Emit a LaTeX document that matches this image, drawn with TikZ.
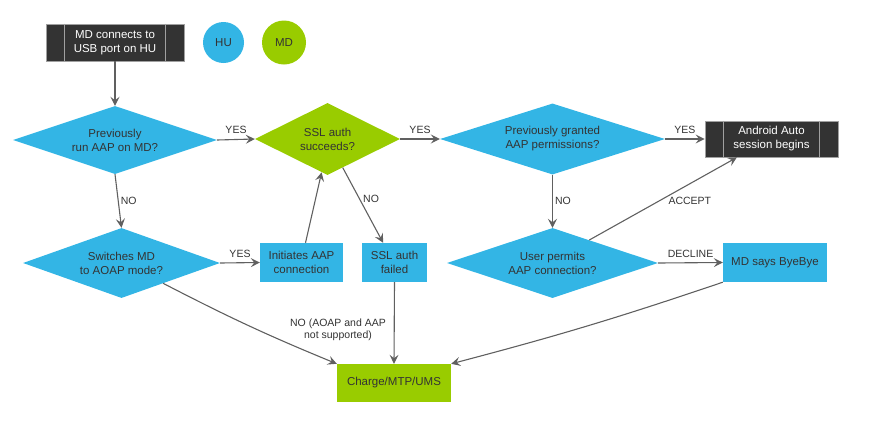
\documentclass[tikz,border=0pt]{standalone}
\usepackage{fontspec}
\setmainfont{Liberation Sans}
\usetikzlibrary{shapes.geometric,arrows.meta}
\definecolor{hublue}{HTML}{33B5E5}
\definecolor{mdgreen}{HTML}{99CC00}
\definecolor{darkbox}{HTML}{333333}
\definecolor{boxedge}{HTML}{A0A0A0}
\definecolor{arrowgray}{HTML}{606060}
\definecolor{txt}{HTML}{333333}
\tikzset{
  base/.style={inner sep=0pt, align=center, font=\fontsize{11.5}{14}\selectfont, text=txt},
  dia/.style={base, diamond, shape aspect=3, fill=hublue},
  gdia/.style={base, diamond, shape aspect=3, fill=mdgreen},
  bluebox/.style={base, rectangle, fill=hublue},
  greenbox/.style={base, rectangle, fill=mdgreen},
  procbox/.style={base, rectangle, fill=darkbox, draw=boxedge, line width=0.8pt, text=white},
  legend/.style={base, circle},
  conn/.style={draw=arrowgray, line width=1.1pt, -{Stealth[length=9pt,width=9pt,inset=3.5pt]}},
  lbl/.style={font=\fontsize{10.5}{12.5}\selectfont, text=txt, inner sep=0pt, align=center},
}
\begin{document}
\begin{tikzpicture}[x=1pt,y=-1pt]
\useasboundingbox (0,0) rectangle (873,426);
% legend
\node[legend, fill=hublue, minimum size=41pt] (hu) at (223.5,42.5) {HU};
\node[legend, fill=mdgreen, minimum size=44pt] (md) at (284,42.5) {MD};
% start box
\node[procbox, minimum width=138pt, minimum height=37pt] (start) at (115,42.5) {MD connects to\\USB port on HU};
\draw[boxedge, line width=0.8pt] ([xshift=19pt]start.north west) -- ([xshift=19pt]start.south west);
\draw[boxedge, line width=0.8pt] ([xshift=-19pt]start.north east) -- ([xshift=-19pt]start.south east);
% diamonds
\node[dia, minimum width=204pt, minimum height=68pt] (prev) at (115,140) {Previously\\run AAP on MD?};
\node[gdia, minimum width=145pt, minimum height=72pt] (ssl) at (327.5,139) {SSL auth\\succeeds?};
\node[dia, minimum width=225pt, minimum height=71pt] (granted) at (552.5,139) {Previously granted\\AAP permissions?};
\node[dia, minimum width=197pt, minimum height=70pt] (aoap) at (121.5,263) {Switches MD\\to AOAP mode?};
\node[dia, minimum width=211pt, minimum height=70pt] (permit) at (552.5,263) {User permits\\AAP connection?};
% boxes
\node[procbox, minimum width=133pt, minimum height=36pt] (aa) at (771.5,139) {Android Auto\\session begins};
\draw[boxedge, line width=0.8pt] ([xshift=19pt]aa.north west) -- ([xshift=19pt]aa.south west);
\draw[boxedge, line width=0.8pt] ([xshift=-19pt]aa.north east) -- ([xshift=-19pt]aa.south east);
\node[bluebox, minimum width=83pt, minimum height=39pt] (init) at (301.5,262.5) {Initiates AAP\\connection};
\node[bluebox, minimum width=65pt, minimum height=39pt] (failed) at (394.5,262.5) {SSL auth\\failed};
\node[bluebox, minimum width=104pt, minimum height=39pt] (bye) at (775,262.5) {MD says ByeBye};
\node[greenbox, minimum width=114pt, minimum height=38pt] (charge) at (394,383) {Charge/MTP/UMS};
% connectors
\draw[conn] (start.south) -- (prev.north);
\draw[conn] (prev.east) -- node[lbl, above=5pt] {YES} (ssl.west);
\draw[conn] (ssl.east) -- node[lbl, above=5pt] {YES} (granted.west);
\draw[conn] (granted.east) -- node[lbl, above=5pt] {YES} (aa.west);
\draw[conn] (prev.south) -- node[lbl, right=2pt] {NO} (aoap.north);
\draw[conn] (aoap.east) -- node[lbl, above=5pt] {YES} (init.west);
\draw[conn] ([xshift=4pt]init.north) -- (ssl.260);
\draw[conn] (ssl.298) -- node[lbl, pos=0.42, right=3pt] {NO} (failed.120);
\draw[conn] (granted.south) -- node[lbl, right=2pt] {NO} (permit.north);
\draw[conn] (permit.32) -- node[lbl, pos=0.6, xshift=12pt, yshift=-10pt] {ACCEPT} (aa.208);
\draw[conn] (permit.east) -- node[lbl, above=5pt] {DECLINE} (bye.west);
\draw[conn] (aoap.334) to[bend right=2.5] (charge.north west);
\draw[conn] (failed.south) -- (charge.north);
\draw[conn] (bye.south west) to[bend left=2] (charge.north east);
\node[lbl] (nolbl) at (338,330) {NO (AOAP and AAP\\not supported)};
\end{tikzpicture}
\end{document}
